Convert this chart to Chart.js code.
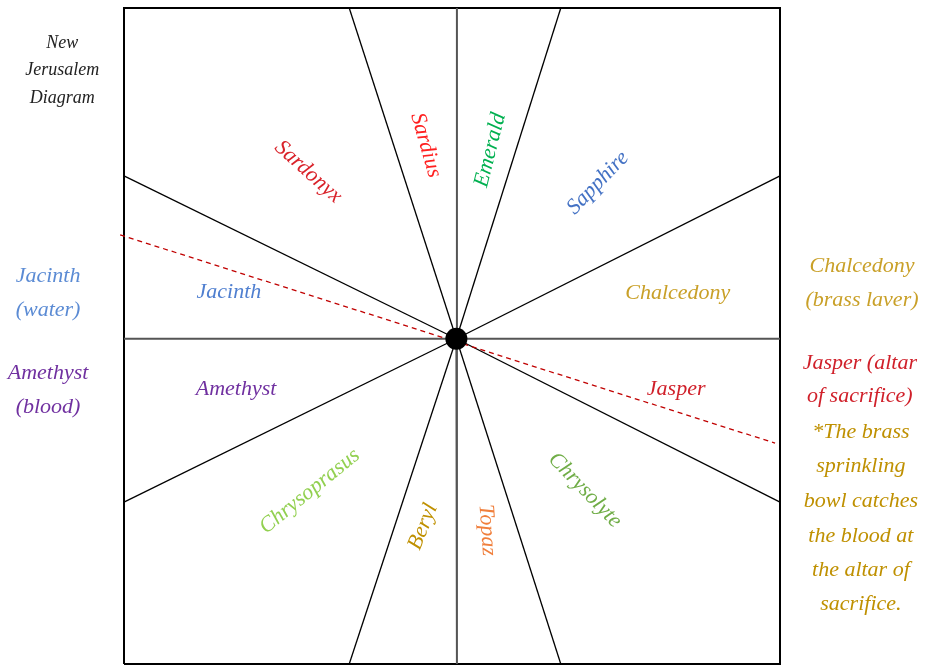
<!DOCTYPE html>
<html>
<head>
<meta charset="utf-8">
<script src="https://cdn.jsdelivr.net/npm/chart.js@4.4.0/dist/chart.umd.min.js"></script>
<style>
  body { margin: 0; background: #fff; overflow: hidden; }
  canvas { display: block; }
</style>
</head>
<body>
<canvas id="diagram" width="925" height="665"></canvas>
<script>
  // diagram units: square runs 0..12 on both axes
  const center = [6.08, 5.95];
  const spokeEnds = [[4.12, 12], [7.99, 12], [12, 8.93], [12, 2.96], [7.99, 0], [4.12, 0], [0, 2.96], [0, 8.93]];
  const crossEnds = [[6.09, 12], [6.09, 0], [0, 5.95], [12, 5.95]];
  const dashedLine = [[-0.07, 7.85], [11.91, 4.04]];
  const boxCorners = [[0, 0], [12, 0], [12, 12], [0, 12], [0, 0]];

  const stones = ["Sardonyx", "Sardius", "Emerald", "Sapphire", "Jacinth", "Chalcedony", "Amethyst", "Jasper", "Chrysoprasus", "Beryl", "Topaz", "Chrysolyte"];
  const stoneSpots = [[3.37, 9.0], [5.52, 9.49], [6.70, 9.40], [8.67, 8.80], [1.92, 6.80], [10.13, 6.79], [2.05, 5.03], [10.10, 5.03], [3.40, 3.16], [5.47, 2.51], [6.64, 2.45], [8.43, 3.18]];
  const stoneTilt = [42, 74, -76, -46, 0, 0, 0, 0, -39, -68, 86, 46];
  const stoneColors = ["#D9222A", "#FF2020", "#00B050", "#4472C4", "#4F7FD0", "#C9A028", "#7030A0", "#D0202A", "#92D050", "#BF9000", "#F07F3C", "#70AD47"];

  const sideNotes = [
    { lines: ["New", "Jerusalem", "Diagram"], x: -1.13, y: [11.36, 10.87, 10.34], color: "#222", size: 18 },
    { lines: ["Jacinth", "(water)"], x: -1.39, y: [7.10, 6.48], color: "#5B8BD4", size: 22 },
    { lines: ["Amethyst", "(blood)"], x: -1.39, y: [5.32, 4.70], color: "#7030A0", size: 22 },
    { lines: ["Chalcedony", "(brass laver)"], x: 13.5, y: [7.28, 6.66], color: "#C9A028", size: 22 },
    { lines: ["Jasper (altar", "of sacrifice)"], x: 13.46, y: [5.51, 4.90], color: "#D0202A", size: 22 },
    { lines: ["*The brass", "sprinkling", "bowl catches", "the blood at", "the altar of", "sacrifice."], x: 13.48, y: [4.24, 3.62, 2.98, 2.34, 1.72, 1.10], color: "#BF9000", size: 22 }
  ];

  function pts(arr) {
    return arr.map(function (p) { return { x: p[0], y: p[1] }; });
  }

  const datasets = [];
  datasets.push({
    data: [{ x: center[0], y: center[1] }],
    pointRadius: 11,
    pointBackgroundColor: "#000",
    pointBorderWidth: 0,
    showLine: false,
    clip: false
  });
  datasets.push({
    data: pts(dashedLine),
    showLine: true,
    borderColor: "#C00000",
    borderWidth: 1.3,
    borderDash: [5, 4],
    pointRadius: 0,
    clip: false
  });
  spokeEnds.forEach(function (e) {
    datasets.push({
      data: pts([center, e]),
      showLine: true,
      borderColor: "#000",
      borderWidth: 1.3,
      pointRadius: 0,
      clip: false
    });
  });
  crossEnds.forEach(function (e) {
    datasets.push({
      data: pts([center, e]),
      showLine: true,
      borderColor: "#555",
      borderWidth: 2,
      pointRadius: 0,
      clip: false
    });
  });
  datasets.push({
    data: pts(boxCorners),
    showLine: true,
    borderColor: "#000",
    borderWidth: 2,
    pointRadius: 0,
    clip: false
  });

  const labelPlugin = {
    id: 'stoneLabels',
    afterDatasetsDraw: function (chart) {
      const ctx = chart.ctx;
      const sx = chart.scales.x;
      const sy = chart.scales.y;
      ctx.save();
      ctx.textAlign = 'center';
      ctx.textBaseline = 'middle';
      stones.forEach(function (name, i) {
        ctx.save();
        ctx.translate(sx.getPixelForValue(stoneSpots[i][0]), sy.getPixelForValue(stoneSpots[i][1]));
        ctx.rotate(stoneTilt[i] * Math.PI / 180);
        ctx.font = 'italic 22px "Liberation Serif"';
        ctx.fillStyle = stoneColors[i];
        ctx.fillText(name, 0, 0);
        ctx.restore();
      });
      sideNotes.forEach(function (note) {
        ctx.font = 'italic ' + note.size + 'px "Liberation Serif"';
        ctx.fillStyle = note.color;
        note.lines.forEach(function (line, j) {
          ctx.fillText(line, sx.getPixelForValue(note.x), sy.getPixelForValue(note.y[j]));
        });
      });
      ctx.restore();
    }
  };

  const configDiagram = {
    type: "scatter",
    data: { datasets: datasets },
    options: {
      responsive: false,
      animation: false,
      layout: { autoPadding: false, padding: { left: 124, right: 145, top: 8, bottom: 1 } },
      scales: {
        x: { type: 'linear', min: 0, max: 12, display: false },
        y: { type: 'linear', min: 0, max: 12, display: false }
      },
      plugins: {
        legend: { display: false },
        tooltip: { enabled: false }
      }
    },
    plugins: [labelPlugin]
  };

  var diagram = new Chart(document.getElementById("diagram"), configDiagram);
</script>
</body>
</html>
